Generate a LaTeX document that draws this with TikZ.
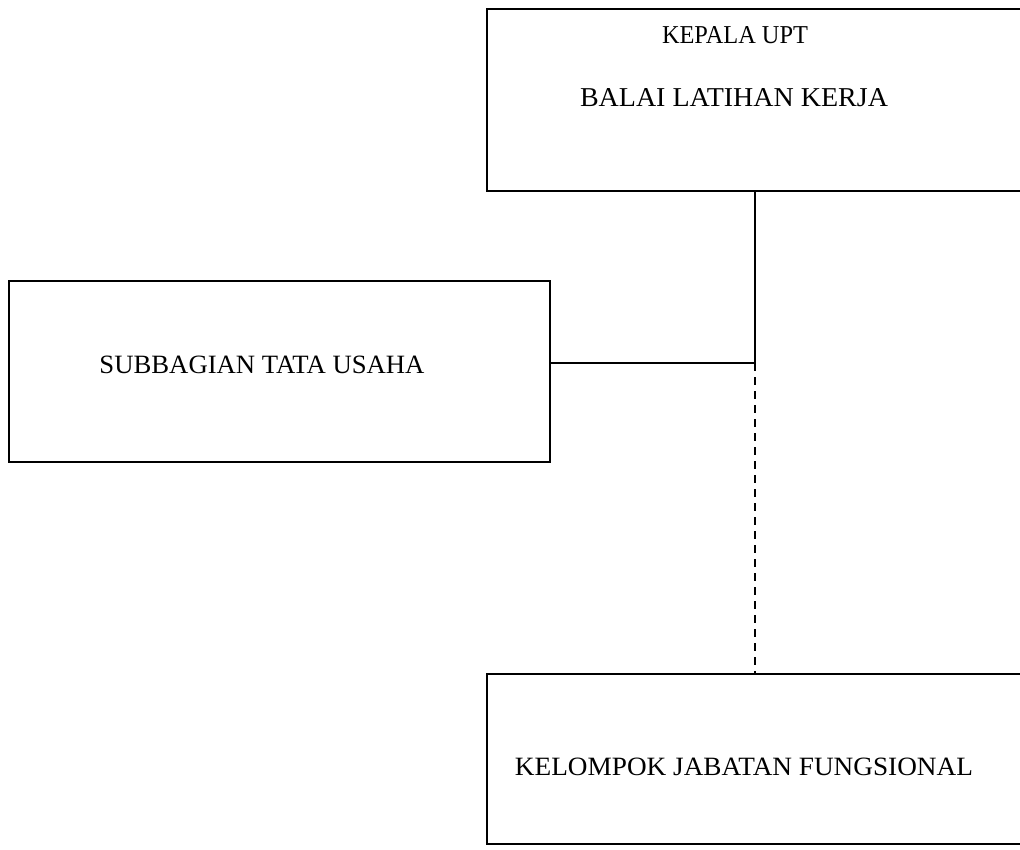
\documentclass[tikz,border=0pt]{standalone}
\usepackage{fontspec}
\setmainfont{Liberation Serif}
\usepackage{graphicx}
\begin{document}
\begin{tikzpicture}[x=1pt,y=-1pt,
  boxline/.style={draw=black,line width=1.9pt},
  conn/.style={draw=black,line width=1.7pt},
  lbl/.style={inner sep=0pt,font=\fontsize{24}{28}\selectfont}]
\useasboundingbox (0,0) rectangle (1020,850);
\clip (0,0) rectangle (1020,850);
\fill[white] (0,0) rectangle (1020,850);
% boxes
\node[boxline,minimum width=560pt,minimum height=182pt,inner sep=0pt,anchor=north west] (kepala) at (486,8) {};
\node[boxline,minimum width=541pt,minimum height=181pt,inner sep=0pt,anchor=north west] (tu) at (8,280) {};
\node[boxline,minimum width=560pt,minimum height=170pt,inner sep=0pt,anchor=north west] (kjf) at (486,673) {};
% texts
\node[lbl] (t1) at (735,35) {\resizebox{146pt}{17pt}{KEPALA UPT}};
\node[lbl] (t2) at (734,98) {\resizebox{308pt}{18pt}{BALAI LATIHAN KERJA}};
\node[lbl] (t3) at (262,365) {\resizebox{325pt}{17.5pt}{SUBBAGIAN TATA USAHA}};
\node[lbl] (t4) at (744,767) {\resizebox{458pt}{17.5pt}{KELOMPOK JABATAN FUNGSIONAL}};
% connectors
\coordinate (j) at (755,363);
\draw[conn] (kepala.south west -| j) -- (j);
\draw[conn] (tu.east |- j) -- (j);
\draw[conn,dashed,dash pattern=on 8pt off 6pt] (j) -- (kjf.north west -| j);
\end{tikzpicture}
\end{document}
